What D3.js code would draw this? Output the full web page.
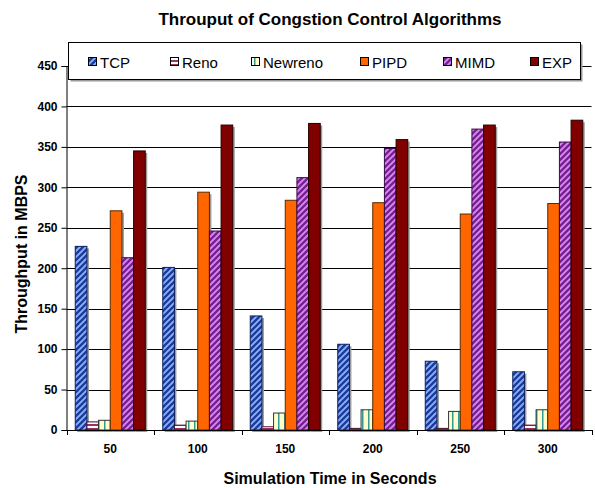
<!DOCTYPE html>
<html><head><meta charset="utf-8">
<script src="https://cdn.jsdelivr.net/npm/d3@7"></script>
<style>body{margin:0;background:#fff}svg{display:block;font-family:"Liberation Sans",Arial,sans-serif}</style>
</head><body>
<svg id="c" width="595" height="488"></svg>
<script>
const categories = ["50","100","150","200","250","300"];
const seriesNames = ["TCP","Reno","Newreno","PIPD","MIMD","EXP"];
const tcp     = [227, 201, 141, 106, 85, 72];
const reno    = [10, 6, 4, 2, 2, 6];
const newreno = [12, 11, 21, 25, 23, 25];
const pipd    = [271, 294, 284, 281, 267, 280];
const mimd    = [213, 246, 312, 348, 372, 356];
const exp     = [345, 377, 379, 359, 377, 383];
const yTicks  = [0,50,100,150,200,250,300,350,400,450];
const seriesValues = [tcp, reno, newreno, pipd, mimd, exp];

const svg = d3.select("#c");
const defs = svg.append("defs");
function diag(id, bg, fg, dir){
  const p = defs.append("pattern").attr("id",id).attr("patternUnits","userSpaceOnUse")
    .attr("width",6).attr("height",6);
  p.append("rect").attr("width",6).attr("height",6).attr("fill",bg);
  const d = dir>0 ? "M-1,1 l2,-2 M0,6 l6,-6 M5,7 l2,-2" : "M-1,5 l2,2 M0,0 l6,6 M5,-1 l2,2";
  p.append("path").attr("d",d).attr("stroke",fg).attr("stroke-width",2.4);
}
diag("pTCP","#86b4ff","#1f3a9a",1);
diag("pMIMD","#d28cf5","#7a1f8f",1);
const pr = defs.append("pattern").attr("id","pReno").attr("patternUnits","userSpaceOnUse").attr("width",4).attr("height",4);
pr.append("rect").attr("width",4).attr("height",4).attr("fill","#ffffff");
pr.append("rect").attr("width",4).attr("height",2).attr("fill","#993366");
const pn = defs.append("pattern").attr("id","pNew").attr("patternUnits","userSpaceOnUse").attr("width",6).attr("height",6);
pn.append("rect").attr("width",6).attr("height",6).attr("fill","#ffffcc");
pn.append("rect").attr("x",2).attr("width",1.5).attr("height",6).attr("fill","#339999");
const fills = ["url(#pTCP)","url(#pReno)","url(#pNew)","#ff6600","url(#pMIMD)","#800000"];
const strokes = ["#0d1f5c","#4a1030","#333","#5a2a00","#3a0a4a","#200000"];

const m = {l:66.5, r:591.5, t:66, b:430};
const x0 = d3.scaleBand().domain(categories).range([m.l, m.r]).paddingInner(0).paddingOuter(0);
const inner = x0.bandwidth()*(6/7.5);
const x1 = d3.scaleBand().domain(seriesNames).range([0, inner]).padding(0);
const y = d3.scaleLinear().domain([0,450]).range([m.b, m.t]);

// gridlines
svg.append("g").selectAll("line").data(yTicks.slice(1)).join("line")
  .attr("x1",m.l).attr("x2",m.r).attr("y1",d=>Math.round(y(d))+0.5).attr("y2",d=>Math.round(y(d))+0.5)
  .attr("stroke","#000").attr("stroke-width",1);

// bars
const off = (x0.bandwidth()-inner)/2;
const g = svg.append("g");
seriesNames.forEach((s,si)=>{
  const vals = seriesValues[si];
  g.append("g").selectAll("rect.sh").data(vals).join("rect")
    .attr("x",(d,i)=>x0(categories[i])+off+x1(s)+2)
    .attr("y",d=>y(d)+2).attr("width",x1.bandwidth()).attr("height",d=>m.b-y(d))
    .attr("fill","#9a9a9a");
});
seriesNames.forEach((s,si)=>{
  const vals = seriesValues[si];
  g.append("g").selectAll("rect").data(vals).join("rect")
    .attr("x",(d,i)=>x0(categories[i])+off+x1(s))
    .attr("y",d=>y(d)).attr("width",x1.bandwidth()).attr("height",d=>m.b-y(d))
    .attr("fill",fills[si]).attr("stroke",strokes[si]).attr("stroke-width",1);
});

// axes
const yAxis = svg.append("g").attr("transform",`translate(${m.l},0)`)
  .call(d3.axisLeft(y).tickValues(yTicks).tickSize(5).tickPadding(4));
yAxis.select(".domain").attr("stroke","#000");
yAxis.selectAll("text").attr("font-size",12).attr("font-weight","bold").attr("fill","#000")
  .attr("font-family","Liberation Sans, Arial, sans-serif");
const xAxis = svg.append("g").attr("transform",`translate(0,${m.b})`)
  .call(d3.axisBottom(x0).tickSize(0).tickPadding(14));
xAxis.select(".domain").attr("stroke","#000");
xAxis.selectAll("text").attr("font-size",12).attr("font-weight","bold").attr("fill","#000")
  .attr("font-family","Liberation Sans, Arial, sans-serif");
svg.append("g").selectAll("line").data(categories.concat(["end"])).join("line")
  .attr("x1",(d,i)=>Math.round(m.l + i*x0.bandwidth())+0.5).attr("x2",(d,i)=>Math.round(m.l + i*x0.bandwidth())+0.5)
  .attr("y1",m.b).attr("y2",m.b+5).attr("stroke","#000");

// legend
const lg = svg.append("g");
lg.append("rect").attr("x",70.5).attr("y",44.5).attr("width",512).attr("height",37).attr("fill","#9a9a9a");
lg.append("rect").attr("x",68.5).attr("y",42.5).attr("width",512).attr("height",37).attr("fill","#fff").attr("stroke","#000");
const lx = [88, 170, 251, 360, 443, 530];
seriesNames.forEach((s,i)=>{
  lg.append("rect").attr("x",lx[i]+0.5).attr("y",57.5).attr("width",8).attr("height",8)
    .attr("fill",fills[i]).attr("stroke","#000");
  lg.append("text").attr("x",lx[i]+12).attr("y",67.5).attr("font-size",15).text(s);
});

// titles
svg.append("text").attr("x",330).attr("y",25).attr("text-anchor","middle").attr("font-size",17)
  .attr("font-weight","bold").text("Throuput of Congstion Control Algorithms");
svg.append("text").attr("x",330).attr("y",484).attr("text-anchor","middle").attr("font-size",16)
  .attr("font-weight","bold").text("Simulation Time in Seconds");
svg.append("text").attr("transform","translate(27,254) rotate(-90)").attr("text-anchor","middle").attr("font-size",16)
  .attr("font-weight","bold").text("Throughput in MBPS");
</script>
</body></html>
